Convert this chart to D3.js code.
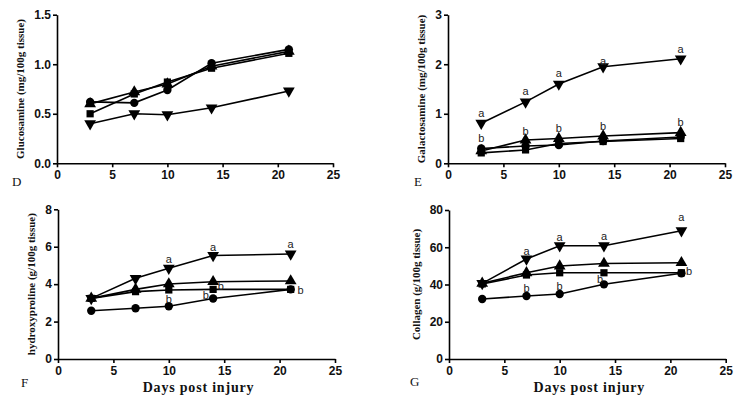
<!DOCTYPE html>
<html><head><meta charset="utf-8">
<script src="https://cdn.jsdelivr.net/npm/d3@7"></script>
<style>body{margin:0;background:#fff}svg{display:block}text{-webkit-font-smoothing:antialiased}</style>
</head><body><svg id="c" width="750" height="405"></svg>
<script>
// ---- data ----
const days = [3, 7, 10, 14, 21];
const xTicks = [0, 5, 10, 15, 20, 25];

const glucCircle   = [0.62, 0.61, 0.74, 1.01, 1.15];
const glucTriangle = [0.60, 0.72, 0.80, 0.98, 1.13];
const glucSquare   = [0.50, 0.70, 0.82, 0.96, 1.11];
const glucDown     = [0.40, 0.50, 0.49, 0.56, 0.73];
const glucTicks    = [0, 0.5, 1.0, 1.5];

const galCircle   = [0.30, 0.35, 0.37, 0.45, 0.53];
const galTriangle = [0.25, 0.47, 0.50, 0.55, 0.62];
const galSquare   = [0.21, 0.27, 0.40, 0.44, 0.50];
const galDown     = [0.81, 1.24, 1.60, 1.95, 2.11];
const galTicks    = [0, 1, 2, 3];

const hypCircle   = [2.58, 2.71, 2.82, 3.23, 3.72];
const hypTriangle = [3.24, 3.72, 4.01, 4.13, 4.17];
const hypSquare   = [3.24, 3.60, 3.69, 3.72, 3.72];
const hypDown     = [3.24, 4.31, 4.85, 5.53, 5.61];
const hypTicks    = [0, 2, 4, 6, 8];

const colCircle   = [32.2, 33.8, 34.9, 40.1, 46.0];
const colTriangle = [40.6, 46.3, 49.9, 51.3, 51.7];
const colSquare   = [40.3, 45.1, 46.3, 46.3, 46.3];
const colDown     = [40.6, 53.7, 60.8, 60.8, 68.9];
const colTicks    = [0, 20, 40, 60, 80];

// significance letters: [day, value, letter]
const galLetters = [[3,1.02,"a"],[7,1.46,"a"],[10,1.81,"a"],[14,2.06,"a"],[21,2.30,"a"],
                    [3,0.50,"b"],[7,0.65,"b"],[10,0.70,"b"],[14,0.74,"b"],[21,0.84,"b"]];
const hypLetters = [[10,5.33,"a"],[14,6.0,"a"],[21,6.13,"a"],
                    [10,3.21,"b"],[13.35,3.42,"b"],[14.7,3.9,"b"],[21.9,3.69,"b"]];
const colLetters = [[7,58,"a"],[10,65.3,"a"],[14,66.2,"a"],[21,75.9,"a"],
                    [7,38,"b"],[10,39.2,"b"],[13.65,43,"b"],[21.7,46.9,"b"]];
const glucLetters = [];

const yTitles = ["Glucosamine (mg/100g tissue)", "Galactosamine (mg/100g tissue)",
                 "hydroxyproline (g/100g tissue)", "Collagen (g/100g tissue)"];
const panelLetters = ["D", "E", "F", "G"];
const xTitle = "Days post injury";

// ---- layout ----
const svg = d3.select("#c");
const panels = [
  {x0:57,  x1:333,   y0:14.7, y1:163.3, yMax:1.5, ticks:glucTicks, fmt:d3.format(".1f"),
   series:[glucCircle, glucTriangle, glucSquare, glucDown], letters:glucLetters,
   titleX:20, letterX:12, letterY:186, xt:false},
  {x0:448, x1:725,   y0:14.7, y1:163.3, yMax:3, ticks:galTicks, fmt:d3.format("d"),
   series:[galCircle, galTriangle, galSquare, galDown], letters:galLetters,
   titleX:421.5, letterX:414, letterY:186, xt:false},
  {x0:58,  x1:335,   y0:209.3, y1:359, yMax:8, ticks:hypTicks, fmt:d3.format("d"),
   series:[hypCircle, hypTriangle, hypSquare, hypDown], letters:hypLetters,
   titleX:31.5, letterX:21, letterY:387, xt:true},
  {x0:449, x1:725.7, y0:210, y1:359, yMax:80, ticks:colTicks, fmt:d3.format("d"),
   series:[colCircle, colTriangle, colSquare, colDown], letters:colLetters,
   titleX:416.5, letterX:410, letterY:386, xt:true}
];
const shapes = [
  {type:d3.symbolCircle, size:55, rot:0},
  {type:d3.symbolTriangle, size:60, rot:0},
  {type:d3.symbolSquare, size:52, rot:0},
  {type:d3.symbolTriangle, size:60, rot:180}
];

panels.forEach((p, i) => {
  const x = d3.scaleLinear().domain([0, 25]).range([p.x0, p.x1]);
  const y = d3.scaleLinear().domain([0, p.yMax]).range([p.y1, p.y0]);
  const g = svg.append("g");

  const xa = g.append("g").attr("transform", `translate(0,${p.y1})`)
    .call(d3.axisBottom(x).tickValues(xTicks).tickSize(4).tickPadding(3).tickSizeOuter(0));
  const ya = g.append("g").attr("transform", `translate(${p.x0},0)`)
    .call(d3.axisLeft(y).tickValues(p.ticks).tickFormat(p.fmt).tickSize(4).tickPadding(2).tickSizeOuter(0));
  [xa, ya].forEach(a => {
    a.selectAll("path,line").attr("stroke", "#000").attr("stroke-width", 1.6);
    a.selectAll("text").attr("fill", "#111").attr("font-family", "Liberation Sans, Arial, sans-serif")
      .attr("font-weight", "bold").attr("font-size", 12);
  });

  const line = d3.line().x((d, k) => x(days[k])).y(d => y(d));
  p.series.forEach((s, si) => {
    g.append("path").datum(s).attr("d", line).attr("fill", "none")
      .attr("stroke", "#000").attr("stroke-width", 1.6);
  });
  p.series.forEach((s, si) => {
    const sh = shapes[si];
    g.selectAll(null).data(s).enter().append("path")
      .attr("d", d3.symbol().type(sh.type).size(sh.size))
      .attr("transform", (d, k) => `translate(${x(days[k])},${y(d)}) rotate(${sh.rot})`)
      .attr("fill", "#000");
  });

  g.selectAll(null).data(p.letters).enter().append("text")
    .attr("x", d => x(d[0])).attr("y", d => y(d[1]))
    .attr("dy", "0.35em").attr("text-anchor", "middle")
    .attr("font-family", "Liberation Sans, Arial, sans-serif").attr("font-size", 11)
    .attr("fill", "#222").text(d => d[2]);

  g.append("text")
    .attr("transform", `translate(${p.titleX},${(p.y0 + p.y1) / 2}) rotate(-90)`)
    .attr("text-anchor", "middle").attr("dy", "0.35em")
    .attr("font-family", "Liberation Serif, Times New Roman, serif").attr("font-weight", "bold")
    .attr("font-size", 11).attr("fill", "#111").text(yTitles[i]);

  g.append("text").attr("x", p.letterX).attr("y", p.letterY)
    .attr("font-family", "Liberation Serif, Times New Roman, serif")
    .attr("font-size", 13).attr("fill", "#111").text(panelLetters[i]);

  if (p.xt) {
    g.append("text").attr("x", (p.x0 + p.x1) / 2 + 2).attr("y", 392)
      .attr("text-anchor", "middle")
      .attr("font-family", "Liberation Serif, Times New Roman, serif").attr("font-weight", "bold")
      .attr("font-size", 14).attr("letter-spacing", 0.8).attr("fill", "#111").text(xTitle);
  }
});
</script></body></html>
